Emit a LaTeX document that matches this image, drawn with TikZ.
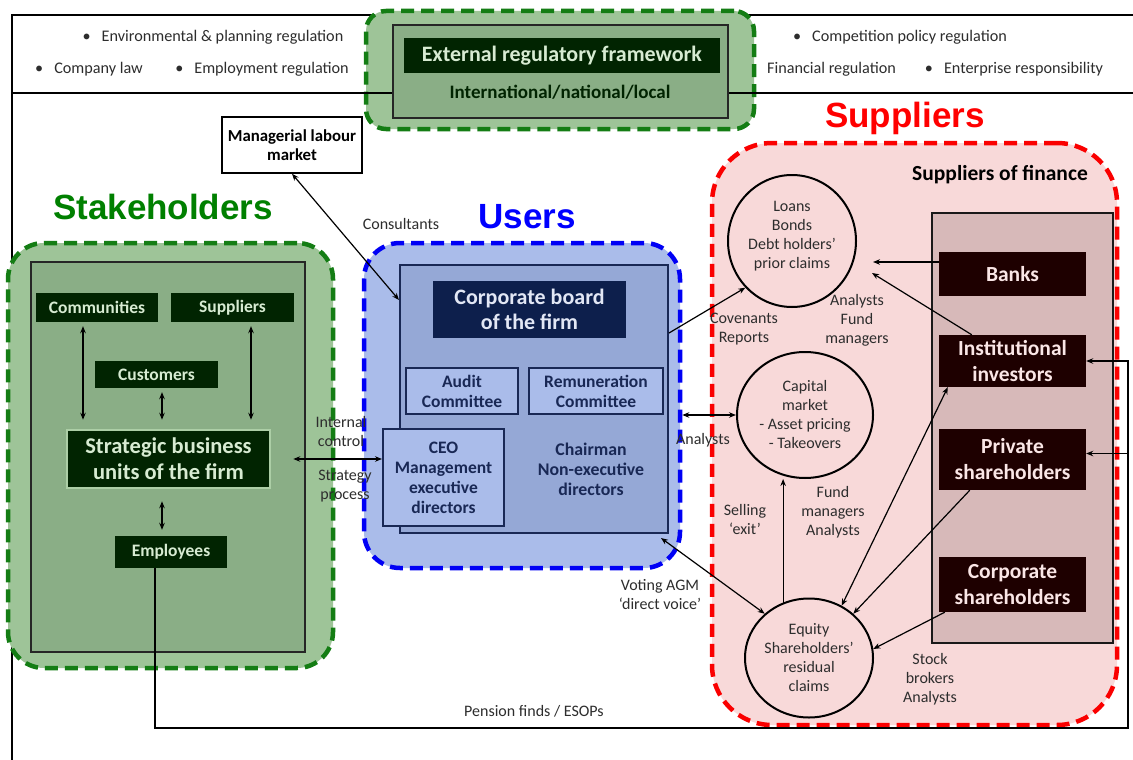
\documentclass[tikz,border=0pt]{standalone}
\usepackage{fontspec}
\setmainfont{Carlito}
\newfontfamily\headfont{Liberation Sans}
\usetikzlibrary{arrows.meta,shapes.geometric}
\definecolor{greenzone}{RGB}{158,196,152}
\definecolor{greeninner}{RGB}{138,174,134}
\definecolor{greendark}{RGB}{1,36,1}
\definecolor{greentext}{RGB}{215,235,210}
\definecolor{greenglow}{RGB}{172,206,166}
\definecolor{greendash}{RGB}{20,125,20}
\definecolor{greentitle}{RGB}{0,128,0}
\definecolor{bluezone}{RGB}{170,188,234}
\definecolor{blueinner}{RGB}{149,168,214}
\definecolor{bluedark}{RGB}{13,31,76}
\definecolor{bluenavy}{RGB}{25,40,85}
\definecolor{bluedash}{RGB}{0,0,245}
\definecolor{bluetitle}{RGB}{0,0,255}
\definecolor{redzone}{RGB}{248,217,217}
\definecolor{redinner}{RGB}{215,185,185}
\definecolor{reddark}{RGB}{30,0,0}
\definecolor{redtext}{RGB}{250,230,230}
\definecolor{reddash}{RGB}{250,0,0}
\definecolor{redtitle}{RGB}{255,0,0}
\definecolor{labelgrey}{RGB}{45,45,45}
\begin{document}
\begin{tikzpicture}[x=1pt,y=-1pt,
    onehead/.style={-{Stealth[length=7pt,width=5.5pt]},line width=1.2pt},
    twohead/.style={{Stealth[length=7pt,width=5.5pt]}-{Stealth[length=7pt,width=5.5pt]},line width=1.2pt},
    zone/.style={rounded corners=#1,line width=4.5pt,dash pattern=on 13pt off 7pt},
    panel/.style={draw,line width=2pt,inner sep=0pt},
    lbl/.style={font=\fontsize{16}{19}\selectfont,text=labelgrey,align=center,inner sep=0pt},
    hdr/.style={font=\fontsize{16.2}{18}\selectfont,text=labelgrey,inner sep=0pt},
    greenbox/.style={fill=greendark,text=greentext,inner sep=0pt,align=center,font=\fontsize{17.5}{20}\selectfont\bfseries},
    bluebox/.style={panel,draw=bluenavy,fill=bluezone,text=bluenavy,align=center,font=\fontsize{17.5}{20}\selectfont\bfseries},
    redbox/.style={fill=reddark,text=redtext,inner sep=0pt,align=center,minimum width=147pt,font=\fontsize{21.5}{26}\selectfont\bfseries},
    claim/.style={ellipse,draw,line width=2pt,inner sep=0pt,align=center,text=labelgrey,font=\fontsize{16}{19}\selectfont},
    bigtitle/.style={font=\headfont\fontsize{35}{40}\selectfont\bfseries,inner sep=0pt}]
  \fill[white] (0,0) rectangle (1133,760);
  \useasboundingbox (0,0) rectangle (1133,760);
  % outer frame
  \draw[line width=1.5pt] (12,760) -- (12,15) -- (1133,15);
  % regulation list
  \node[hdr] (envreg) at (213,37) {\textbullet\hspace{11pt}Environmental \& planning regulation};
  \node[hdr] (complaw) at (89,69) {\textbullet\hspace{11pt}Company law};
  \node[hdr] (emplreg) at (262,69) {\textbullet\hspace{11pt}Employment regulation};
  \node[hdr] (comppol) at (900,37) {\textbullet\hspace{11pt}Competition policy regulation};
  \node[hdr] (finreg) at (822,69) {\textbullet\hspace{11pt}Financial regulation};
  \node[hdr] (entresp) at (1014,69) {\textbullet\hspace{11pt}Enterprise responsibility};
  \node[zone=20pt,draw=greendash,fill=greenzone,minimum width=388pt,minimum height=118pt] (extzone) at (560,70) {};
  \draw[line width=1.2pt] (12,93) -- (1133,93);
  \node[panel,draw=black!85,fill=greeninner,minimum width=335pt,minimum height=93pt] (extframe) at (560.5,71.5) {};
  \node[greenbox,minimum width=316pt,minimum height=35pt,font=\fontsize{22}{24}\selectfont\bfseries] (extreg) at (562,55.5) {External regulatory framework};
  \node[text=greendark,inner sep=0pt,font=\fontsize{19}{21}\selectfont\bfseries] (extlevel) at (560,92) {International/national/local};
  \node[draw,line width=1.5pt,fill=white,align=center,inner sep=0pt,minimum width=140pt,minimum height=56pt,font=\fontsize{16.8}{19}\selectfont\bfseries] (labour) at (292,145) {Managerial labour\\market};
  \node[bigtitle,text=greentitle] (stakename) at (163,207) {Stakeholders};
  \node[bigtitle,text=bluetitle] (username) at (527,217) {Users};
  \node[bigtitle,text=redtitle] (suppname) at (905,118) {Suppliers};
  % stakeholders
  \node[zone=36pt,draw=greendash,fill=greenzone,minimum width=325pt,minimum height=425pt] (stakezone) at (170.5,455.5) {};
  \node[panel,draw=black!85,fill=greeninner,minimum width=274pt,minimum height=390pt] (stakeframe) at (168,457) {};
  \node[greenbox,minimum width=122pt,minimum height=29pt] (comm) at (97,307.5) {Communities};
  \node[greenbox,minimum width=123pt,minimum height=29pt] (supp) at (232.5,307.5) {Suppliers};
  \node[greenbox,minimum width=123pt,minimum height=27pt] (cust) at (156.5,374.5) {Customers};
  \node[greenbox,draw=greenglow,line width=2.5pt,minimum width=203pt,minimum height=58pt,font=\fontsize{22.5}{26}\selectfont\bfseries] (sbu) at (168.5,459) {Strategic business\\units of the firm};
  \node[greenbox,minimum width=112pt,minimum height=32pt] (empl) at (171,552) {Employees};
  \foreach \from/\dx in {comm/-14, supp/18.5, cust/5.5}{
    \draw[twohead,shorten <=4pt,shorten >=9pt] ([xshift=\dx pt]\from.south) -- ([xshift=\dx pt]\from.south |- sbu.north);
  }
  \draw[twohead,shorten <=12pt,shorten >=6pt] ([xshift=-6.5pt]sbu.south) -- ([xshift=-6.5pt]sbu.south |- empl.north);
  % users
  \node[zone=36pt,draw=bluedash,fill=bluezone,minimum width=316pt,minimum height=325pt] (users) at (522,405.5) {};
  \node[lbl] (intctrl) at (341,432) {Internal\\control};
  \node[lbl] (stratproc) at (345,486) {Strategy\\process};
  \node[panel,draw=bluenavy,fill=blueinner,minimum width=268pt,minimum height=268pt] (boardframe) at (534,399) {};
  \node[fill=bluedark,text={rgb,255:red,226;green,231;blue,245},inner sep=0pt,align=center,minimum width=193pt,minimum height=57pt,font=\fontsize{22}{25.5}\selectfont\bfseries] (board) at (529.5,309.5) {Corporate board\\of the firm};
  \node[bluebox,minimum width=112pt,minimum height=46pt] (audit) at (462,391) {Audit\\Committee};
  \node[bluebox,minimum width=134pt,minimum height=46pt] (remun) at (596,391) {Remuneration\\Committee};
  \node[bluebox,minimum width=121pt,minimum height=97pt] (ceo) at (443.5,477.5) {CEO\\Management\\executive\\directors};
  \node[text=bluenavy,align=center,inner sep=0pt,font=\fontsize{17.8}{20}\selectfont\bfseries] (chair) at (591,469) {Chairman\\Non-executive\\directors};
  % suppliers
  \node[zone=60pt,draw=reddash,fill=redzone,minimum width=405pt,minimum height=582pt] (suppzone) at (914.5,434) {};
  \node[inner sep=0pt,font=\fontsize{21.5}{24}\selectfont\bfseries] (finance) at (1000,175) {Suppliers of finance};
  \node[panel,draw=black!90,fill=redinner,minimum width=181pt,minimum height=430pt] (finframe) at (1022.5,428) {};
  \node[redbox,minimum height=44pt] (banks) at (1012.5,274) {Banks};
  \node[redbox,minimum height=52pt] (inst) at (1012.5,361) {Institutional\\investors};
  \node[redbox,minimum height=61pt] (priv) at (1012.5,459.5) {Private\\shareholders};
  \node[redbox,minimum height=55pt] (corp) at (1012.5,584.5) {Corporate\\shareholders};
  \node[claim,minimum width=128pt,minimum height=132pt] (loans) at (792,241) {Loans\\Bonds\\Debt holders’\\prior claims\\[-7pt]};
  \node[claim,minimum width=136pt,minimum height=126pt] (capital) at (805,415) {Capital\\market\\- Asset pricing\\- Takeovers};
  \node[claim,minimum width=128pt,minimum height=119pt] (equity) at (809,658) {Equity\\Shareholders’\\residual\\claims};
  % labels
  \node[lbl] (consult) at (401,224) {Consultants};
  \node[lbl] (covenant) at (744,329) {Covenants\\Reports};
  \node[lbl] (debtanal) at (857,320) {Analysts\\Fund\\managers};
  \node[lbl] (mktanal) at (703,440) {Analysts};
  \node[lbl] (selling) at (745,519) {Selling\\‘exit’};
  \node[lbl] (fundmgr) at (833,512) {Fund\\managers\\Analysts};
  \node[lbl] (voting) at (660,595) {Voting AGM\\‘direct voice’};
  \node[lbl] (brokers) at (930,679) {Stock\\brokers\\Analysts};
  \node[lbl] (pension) at (534,711) {Pension finds / ESOPs};
  % connectors
  \coordinate (bankend) at (873,262);
  \coordinate (instend) at (872,273);
  \draw[onehead] ([yshift=12pt]banks.west) -- (bankend);
  \draw[onehead] ([xshift=33pt]inst.north west) -- (instend);
  \draw[twohead] (labour.south) -- ([yshift=99pt]boardframe.west);
  \draw[twohead,shorten <=22pt] (sbu.east) -- (sbu.east -| ceo.west);
  \draw[onehead] ([yshift=66pt]boardframe.east) -- (loans.225);
  \draw[twohead] (users.east |- capital.west) -- (capital.west);
  \draw[twohead] ([xshift=-8pt,yshift=-4pt]boardframe.south east) -- (equity.135);
  \draw[onehead] (equity.115) -- (equity.115 |- capital.south);
  \draw[twohead] ([xshift=9pt]inst.south west) -- (equity.58);
  \draw[onehead] ([xshift=31pt]priv.south west) -- (equity.45);
  \draw[onehead] ([xshift=6pt]corp.south west) -- (equity.8);
  \coordinate (pensturn) at (1128,728);
  \coordinate (privin) at ([yshift=6pt]priv.east);
  \draw[onehead] ([xshift=-16pt]empl.south) |- (pensturn) |- (inst.east);
  \draw[onehead] (pensturn |- privin) -- (privin);
\end{tikzpicture}
\end{document}
